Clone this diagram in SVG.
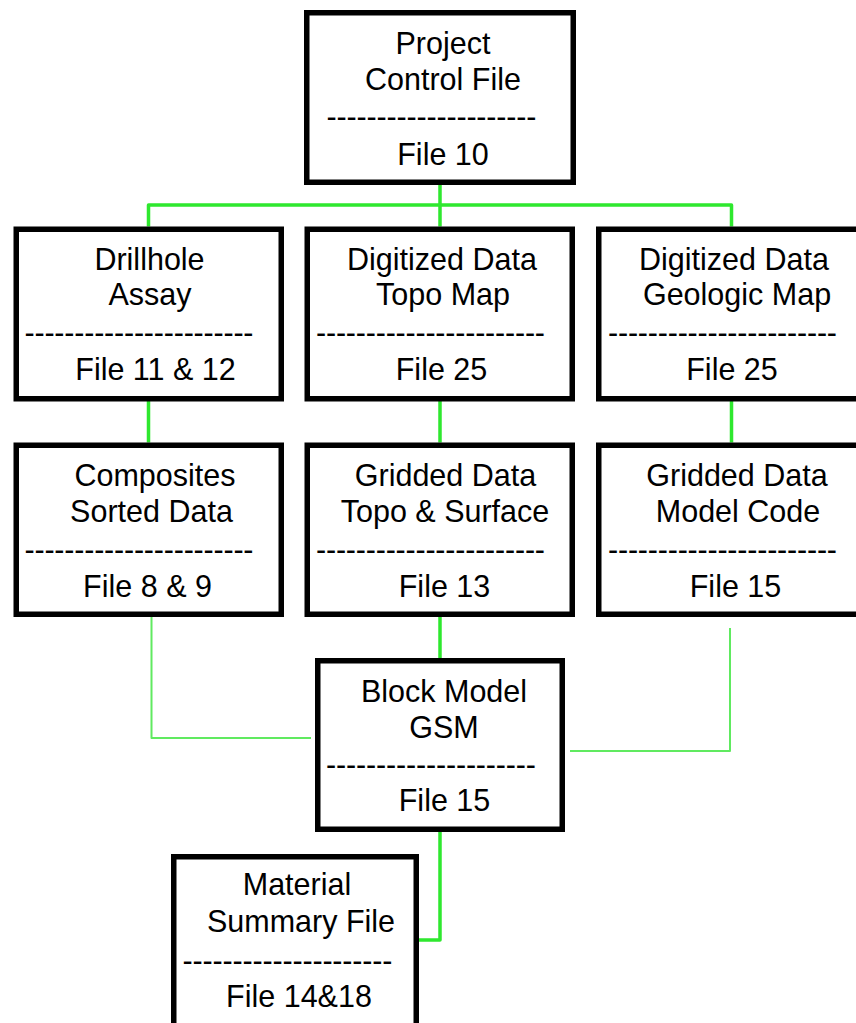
<svg xmlns="http://www.w3.org/2000/svg" width="856" height="1023" viewBox="0 0 856 1023">
<style>
.box{fill:#fff;stroke:#000;stroke-width:5.5}
text{font-family:"Liberation Sans",Arial,sans-serif;font-size:30.5px;fill:#000;text-anchor:middle}
.thick{fill:none;stroke:#2ee82e;stroke-width:3.5;stroke-linejoin:round}
.thin{fill:none;stroke:#60ea60;stroke-width:2;stroke-linejoin:round}
</style>
<rect width="856" height="1023" fill="#fff"/>
<g id="connectors">
<path class="thick" d="M440 185V226.5M148.5 226.5V205H731.5V226.5"/>
<path class="thick" d="M148.5 401V442.5M440 401V442.5M731.5 401V442.5"/>
<path class="thick" d="M440 617V658"/>
<path class="thick" d="M440 832V940H419"/>
<path class="thin" d="M151.5 617V738H311"/>
<path class="thin" d="M730 628V751H570"/>
</g>
<g id="project-control">
<rect class="box" x="306.75" y="12.75" width="266.5" height="169.5"/>
<text x="443" y="53.5">Project</text>
<text x="443" y="90">Control File</text>
<text x="431.5" y="126.5" textLength="210" lengthAdjust="spacing">---------------------</text>
<text x="443" y="165">File 10</text>
</g>
<g id="drillhole">
<rect class="box" x="16.25" y="229.25" width="265" height="169.5"/>
<text x="149.5" y="269.5">Drillhole</text>
<text x="150" y="305">Assay</text>
<text x="139" y="343" textLength="229" lengthAdjust="spacing">-----------------------</text>
<text x="155.5" y="380">File 11 &amp; 12</text>
</g>
<g id="topo-digitized">
<rect class="box" x="307.25" y="229.25" width="265" height="169.5"/>
<text x="442" y="269.5">Digitized Data</text>
<text x="443" y="305">Topo Map</text>
<text x="430.5" y="343" textLength="229" lengthAdjust="spacing">-----------------------</text>
<text x="441.5" y="380">File 25</text>
</g>
<g id="geologic-digitized">
<rect class="box" x="598.75" y="229.25" width="265" height="169.5"/>
<text x="734" y="269.5">Digitized Data</text>
<text x="737" y="305">Geologic Map</text>
<text x="722.5" y="343" textLength="229" lengthAdjust="spacing">-----------------------</text>
<text x="732" y="380">File 25</text>
</g>
<g id="composites">
<rect class="box" x="16.25" y="445.25" width="265" height="169"/>
<text x="155" y="486">Composites</text>
<text x="151.5" y="522">Sorted Data</text>
<text x="139" y="560" textLength="229" lengthAdjust="spacing">-----------------------</text>
<text x="147.5" y="597">File 8 &amp; 9</text>
</g>
<g id="gridded-topo">
<rect class="box" x="307.25" y="445.25" width="265" height="169"/>
<text x="445.5" y="486">Gridded Data</text>
<text x="445" y="522">Topo &amp; Surface</text>
<text x="430.5" y="560" textLength="229" lengthAdjust="spacing">-----------------------</text>
<text x="444.5" y="597">File 13</text>
</g>
<g id="gridded-model">
<rect class="box" x="598.75" y="445.25" width="265" height="169"/>
<text x="737" y="486">Gridded Data</text>
<text x="738" y="522">Model Code</text>
<text x="722.5" y="560" textLength="229" lengthAdjust="spacing">-----------------------</text>
<text x="735.5" y="597">File 15</text>
</g>
<g id="block-model">
<rect class="box" x="317.75" y="660.75" width="244.5" height="168.5"/>
<text x="444" y="701.5">Block Model</text>
<text x="444" y="737.5">GSM</text>
<text x="431" y="775" textLength="210" lengthAdjust="spacing">---------------------</text>
<text x="444.5" y="811">File 15</text>
</g>
<g id="material-summary">
<rect class="box" x="173.75" y="856.75" width="242.5" height="200"/>
<text x="297" y="895">Material</text>
<text x="301" y="931.5">Summary File</text>
<text x="287.5" y="971" textLength="210" lengthAdjust="spacing">---------------------</text>
<text x="299" y="1006.5">File 14&amp;18</text>
</g>
</svg>
